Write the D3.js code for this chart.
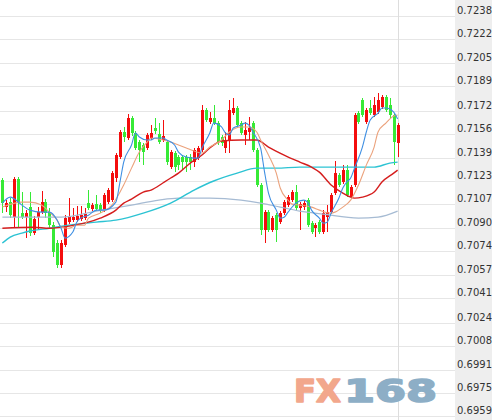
<!DOCTYPE html>
<html>
<head>
<meta charset="utf-8">
<script src="https://cdn.jsdelivr.net/npm/d3@7"></script>
<style>
  html, body { margin: 0; padding: 0; background: #fff; }
  svg { display: block; }
</style>
</head>
<body>
<svg id="chart" width="492" height="420"></svg>
<script>
// candles : [open, high, low, close]
var candles = [
  [0.71236,0.71250,0.71005,0.71075],[0.71047,0.71096,0.71012,0.71075],[0.71082,0.71110,0.70970,0.70991],
  [0.70977,0.71257,0.70907,0.71243],[0.71243,0.71257,0.70900,0.71082],[0.71005,0.71152,0.70963,0.70977],
  [0.70977,0.71026,0.70831,0.71005],[0.71047,0.71152,0.70845,0.70866],[0.70866,0.70984,0.70852,0.70963],
  [0.70977,0.71047,0.70887,0.71012],[0.71012,0.71159,0.70998,0.71082],[0.71082,0.71103,0.70970,0.71005],
  [0.71012,0.71040,0.70900,0.70921],[0.70921,0.70942,0.70698,0.70733],[0.70796,0.70817,0.70621,0.70642],
  [0.70642,0.70817,0.70621,0.70796],[0.70782,0.70991,0.70768,0.70970],[0.70942,0.71110,0.70928,0.70977],
  [0.70956,0.71040,0.70942,0.70977],[0.70956,0.71054,0.70942,0.70984],[0.70963,0.71054,0.70949,0.70991],
  [0.70970,0.71040,0.70956,0.70998],[0.71075,0.71166,0.71026,0.71040],[0.71033,0.71075,0.71019,0.71061],
  [0.71068,0.71131,0.71019,0.71033],[0.71061,0.71075,0.71005,0.71026],[0.71026,0.71145,0.71012,0.71131],
  [0.71082,0.71180,0.71068,0.71166],[0.71096,0.71298,0.71082,0.71284],[0.71250,0.71424,0.71222,0.71410],
  [0.71396,0.71585,0.71382,0.71571],[0.71571,0.71606,0.71501,0.71536],[0.71529,0.71696,0.71515,0.71668],
  [0.71668,0.71682,0.71543,0.71564],[0.71564,0.71578,0.71445,0.71459],[0.71501,0.71515,0.71361,0.71445],
  [0.71480,0.71494,0.71340,0.71431],[0.71459,0.71564,0.71445,0.71550],[0.71529,0.71619,0.71515,0.71564],
  [0.71599,0.71668,0.71557,0.71578],[0.71557,0.71633,0.71487,0.71501],[0.71515,0.71654,0.71501,0.71543],
  [0.71501,0.71515,0.71340,0.71361],[0.71326,0.71445,0.71312,0.71431],[0.71424,0.71438,0.71291,0.71326],
  [0.71396,0.71410,0.71305,0.71340],[0.71396,0.71410,0.71305,0.71361],[0.71396,0.71410,0.71291,0.71361],
  [0.71396,0.71417,0.71305,0.71361],[0.71361,0.71459,0.71326,0.71445],[0.71389,0.71473,0.71375,0.71459],
  [0.71445,0.71759,0.71431,0.71724],[0.71724,0.71738,0.71640,0.71654],[0.71640,0.71710,0.71626,0.71668],
  [0.71668,0.71759,0.71619,0.71633],[0.71633,0.71647,0.71480,0.71501],[0.71536,0.71550,0.71473,0.71494],
  [0.71459,0.71571,0.71424,0.71515],[0.71515,0.71794,0.71424,0.71724],[0.71703,0.71808,0.71689,0.71738],
  [0.71738,0.71752,0.71599,0.71619],[0.71633,0.71647,0.71550,0.71564],[0.71550,0.71640,0.71480,0.71585],
  [0.71571,0.71675,0.71515,0.71599],[0.71633,0.71647,0.71431,0.71445],[0.71445,0.71459,0.71187,0.71201],
  [0.71201,0.71215,0.70852,0.70887],[0.70887,0.71026,0.70796,0.71012],[0.71012,0.71026,0.70873,0.70887],
  [0.70887,0.70984,0.70873,0.70970],[0.70991,0.71005,0.70803,0.70887],[0.70942,0.71019,0.70928,0.71005],
  [0.71005,0.71096,0.70991,0.71082],[0.71061,0.71131,0.71047,0.71117],[0.71096,0.71166,0.71082,0.71152],
  [0.71152,0.71201,0.71026,0.71040],[0.71040,0.71082,0.70887,0.71068],[0.71047,0.71096,0.71026,0.71075],
  [0.71096,0.71110,0.70907,0.70921],[0.70935,0.70949,0.70859,0.70873],[0.70900,0.70935,0.70838,0.70921],
  [0.70942,0.70956,0.70859,0.70873],[0.70873,0.71026,0.70859,0.71005],[0.70977,0.71061,0.70873,0.71012],
  [0.71012,0.71145,0.70998,0.71131],[0.71145,0.71368,0.71131,0.71284],[0.71270,0.71284,0.71187,0.71201],
  [0.71222,0.71340,0.71208,0.71305],[0.71305,0.71340,0.71117,0.71131],[0.71117,0.71201,0.71103,0.71187],
  [0.71201,0.71703,0.71187,0.71689],[0.71703,0.71717,0.71626,0.71640],[0.71794,0.71808,0.71675,0.71689],
  [0.71640,0.71738,0.71626,0.71724],[0.71738,0.71794,0.71689,0.71703],[0.71689,0.71815,0.71675,0.71759],
  [0.71710,0.71843,0.71696,0.71794],[0.71745,0.71829,0.71731,0.71815],[0.71815,0.71829,0.71710,0.71724],
  [0.71759,0.71808,0.71668,0.71689],[0.71689,0.71703,0.71340,0.71501],[0.71494,0.71633,0.71396,0.71619]
];

var tickLabels = ["0.7238","0.7222","0.7205","0.7189","0.7172","0.7156","0.7139","0.7123","0.7107",
                  "0.7090","0.7074","0.7057","0.7041","0.7024","0.7008","0.6991","0.6975","0.6959"];

var maFast = [[0,0.71075],[2,0.71117],[5,0.71061],[7,0.71026],[10,0.71012],[12,0.71012],[14,0.70956],
  [15,0.70900],[16,0.70831],[18,0.70873],[19,0.70942],[20,0.70970],[22,0.70991],[24,0.71026],[26,0.71026],
  [29,0.71082],[30,0.71215],[31,0.71361],[33,0.71480],[34,0.71564],[35,0.71536],[37,0.71515],[38,0.71515],
  [39,0.71529],[41,0.71529],[42,0.71515],[44,0.71480],[45,0.71431],[47,0.71396],[49,0.71389],[50,0.71389],
  [51,0.71459],[53,0.71564],[54,0.71633],[56,0.71606],[57,0.71564],[58,0.71550],[59,0.71599],[61,0.71619],
  [62,0.71633],[63,0.71619],[64,0.71571],[66,0.71459],[67,0.71291],[68,0.71145],[70,0.71026],[71,0.70970],
  [72,0.70977],[73,0.71012],[75,0.71075],[77,0.71096],[78,0.71082],[79,0.71026],[81,0.70970],[82,0.70935],
  [83,0.70942],[84,0.71005],[86,0.71110],[87,0.71180],[88,0.71222],[89,0.71250],[90,0.71320],[92,0.71466],
  [93,0.71571],[94,0.71654],[96,0.71703],[97,0.71738],[98,0.71738],[100,0.71710],[101,0.71661]];

var maTen = [[0,0.71047],[5,0.71082],[7,0.71082],[10,0.71061],[12,0.71012],[14,0.70956],[15,0.70907],
  [17,0.70900],[19,0.70921],[21,0.70921],[22,0.70970],[25,0.71005],[28,0.71061],[31,0.71201],[33,0.71319],
  [35,0.71431],[37,0.71501],[38,0.71529],[41,0.71515],[43,0.71501],[45,0.71480],[47,0.71459],[49,0.71438],
  [51,0.71424],[53,0.71466],[56,0.71515],[58,0.71571],[61,0.71606],[63,0.71606],[65,0.71571],[66,0.71515],
  [68,0.71410],[70,0.71284],[71,0.71180],[73,0.71096],[74,0.71068],[76,0.71061],[79,0.71047],[81,0.71026],
  [84,0.71005],[85,0.71012],[87,0.71047],[89,0.71096],[91,0.71201],[93,0.71340],[95,0.71466],[96,0.71571],
  [98,0.71633],[100,0.71682],[101,0.71689]];

var maRed = [[0,0.70900],[8,0.70907],[12,0.70900],[17,0.70914],[25,0.70970],[29,0.71026],[31,0.71075],
  [33,0.71103],[36,0.71152],[38,0.71166],[41,0.71215],[43,0.71250],[45,0.71284],[48,0.71354],[51,0.71410],
  [53,0.71459],[56,0.71508],[61,0.71515],[65,0.71515],[68,0.71466],[72,0.71410],[76,0.71361],[79,0.71326],
  [81,0.71291],[84,0.71201],[87,0.71145],[90,0.71110],[92,0.71117],[95,0.71152],[97,0.71222],[100,0.71284],
  [101,0.71305]];

var maCyan = [[0,0.70796],[2,0.70838],[5,0.70866],[7,0.70880],[12,0.70900],[17,0.70921],[24,0.70942],
  [29,0.70956],[36,0.71005],[43,0.71075],[49,0.71166],[54,0.71229],[60,0.71284],[65,0.71319],[70,0.71319],
  [76,0.71326],[86,0.71326],[95,0.71326],[99,0.71354],[101,0.71361]];

var maSlow = [[0,0.70977],[7,0.70977],[15,0.70977],[24,0.71019],[33,0.71061],[40,0.71096],[45,0.71110],
  [53,0.71110],[61,0.71096],[66,0.71075],[71,0.71047],[76,0.71019],[82,0.70998],[91,0.70970],[96,0.70977],
  [101,0.71019]];

var W = 492, H = 420;
var svg = d3.select('#chart');

var x = d3.scaleBand().domain(d3.range(candles.length)).range([0, 400]).padding(0.22);
var y = d3.scaleLinear().domain([0.6959, 0.7238]).range([416, 16]);
function cx(i) { return x(i) + x.bandwidth() / 2; }

// grid
svg.append('g').selectAll('line').data(tickLabels).enter()
  .append('line')
  .attr('x1', 0).attr('x2', 455)
  .attr('y1', function(d) { return Math.round(y(+d)) + 0.5; })
  .attr('y2', function(d) { return Math.round(y(+d)) + 0.5; })
  .attr('stroke', '#e6e6e6');

// price axis panel
svg.append('rect').attr('x', 455).attr('y', 0).attr('width', W - 455).attr('height', H).attr('fill', '#eeeeee');
svg.append('g').selectAll('text').data(tickLabels).enter()
  .append('text')
  .attr('x', 457)
  .attr('y', function(d) { return y(+d) - 2; })
  .attr('font-family', 'DejaVu Sans, Verdana, sans-serif')
  .attr('font-size', 10)
  .attr('fill', '#333')
  .text(function(d) { return d; });

// current bar line
var lastX = Math.round(cx(candles.length - 1)) + 0.5;
svg.append('line').attr('x1', lastX).attr('x2', lastX).attr('y1', 0).attr('y2', H)
  .attr('stroke', '#dddddd');

// candles
var up = '#f40d0d', down = '#36ea36';
var gC = svg.append('g').attr('shape-rendering', 'crispEdges');
var sel = gC.selectAll('g').data(candles).enter().append('g');
sel.append('line')
  .attr('x1', function(d, i) { return Math.round(cx(i)) + 0.5; })
  .attr('x2', function(d, i) { return Math.round(cx(i)) + 0.5; })
  .attr('y1', function(d) { return y(d[1]); })
  .attr('y2', function(d) { return y(d[2]); })
  .attr('stroke', function(d) { return d[3] >= d[0] ? up : down; });
sel.append('rect')
  .attr('x', function(d, i) { return Math.round(cx(i)) - 1; })
  .attr('width', 3)
  .attr('y', function(d) { return y(Math.max(d[0], d[3])); })
  .attr('height', function(d) { return Math.max(1, Math.abs(y(d[0]) - y(d[3]))); })
  .attr('fill', function(d) { return d[3] >= d[0] ? up : down; });

// moving averages
var line = d3.line()
  .x(function(d) { return cx(d[0]); })
  .y(function(d) { return y(d[1]); })
  .curve(d3.curveMonotoneX);
var mas = [
  { data: maSlow, color: '#a6bbd3', w: 1.2 },
  { data: maCyan, color: '#2cc3d3', w: 1.4 },
  { data: maRed,  color: '#d51d1d', w: 1.4 },
  { data: maTen,  color: '#eba27c', w: 1.1 },
  { data: maFast, color: '#3f8fe2', w: 1.1 }
];
svg.append('g').selectAll('path').data(mas).enter()
  .append('path')
  .attr('d', function(d) { return line(d.data); })
  .attr('fill', 'none')
  .attr('stroke', function(d) { return d.color; })
  .attr('stroke-width', function(d) { return d.w; });

// watermark
var wm = svg.append('g').attr('font-family', 'DejaVu Sans, sans-serif').attr('font-weight', 'bold')
  .attr('font-size', 32).attr('stroke-width', 1.6).attr('stroke-linejoin', 'round');
wm.append('text').attr('x', 294).attr('y', 402).attr('textLength', 47).attr('lengthAdjust', 'spacingAndGlyphs')
  .attr('fill', '#f2a78c').attr('stroke', '#f2a78c').text('FX');
wm.append('text').attr('x', 344).attr('y', 402).attr('textLength', 93).attr('lengthAdjust', 'spacingAndGlyphs')
  .attr('fill', '#8daec6').attr('stroke', '#8daec6').text('168');
</script>
</body>
</html>
